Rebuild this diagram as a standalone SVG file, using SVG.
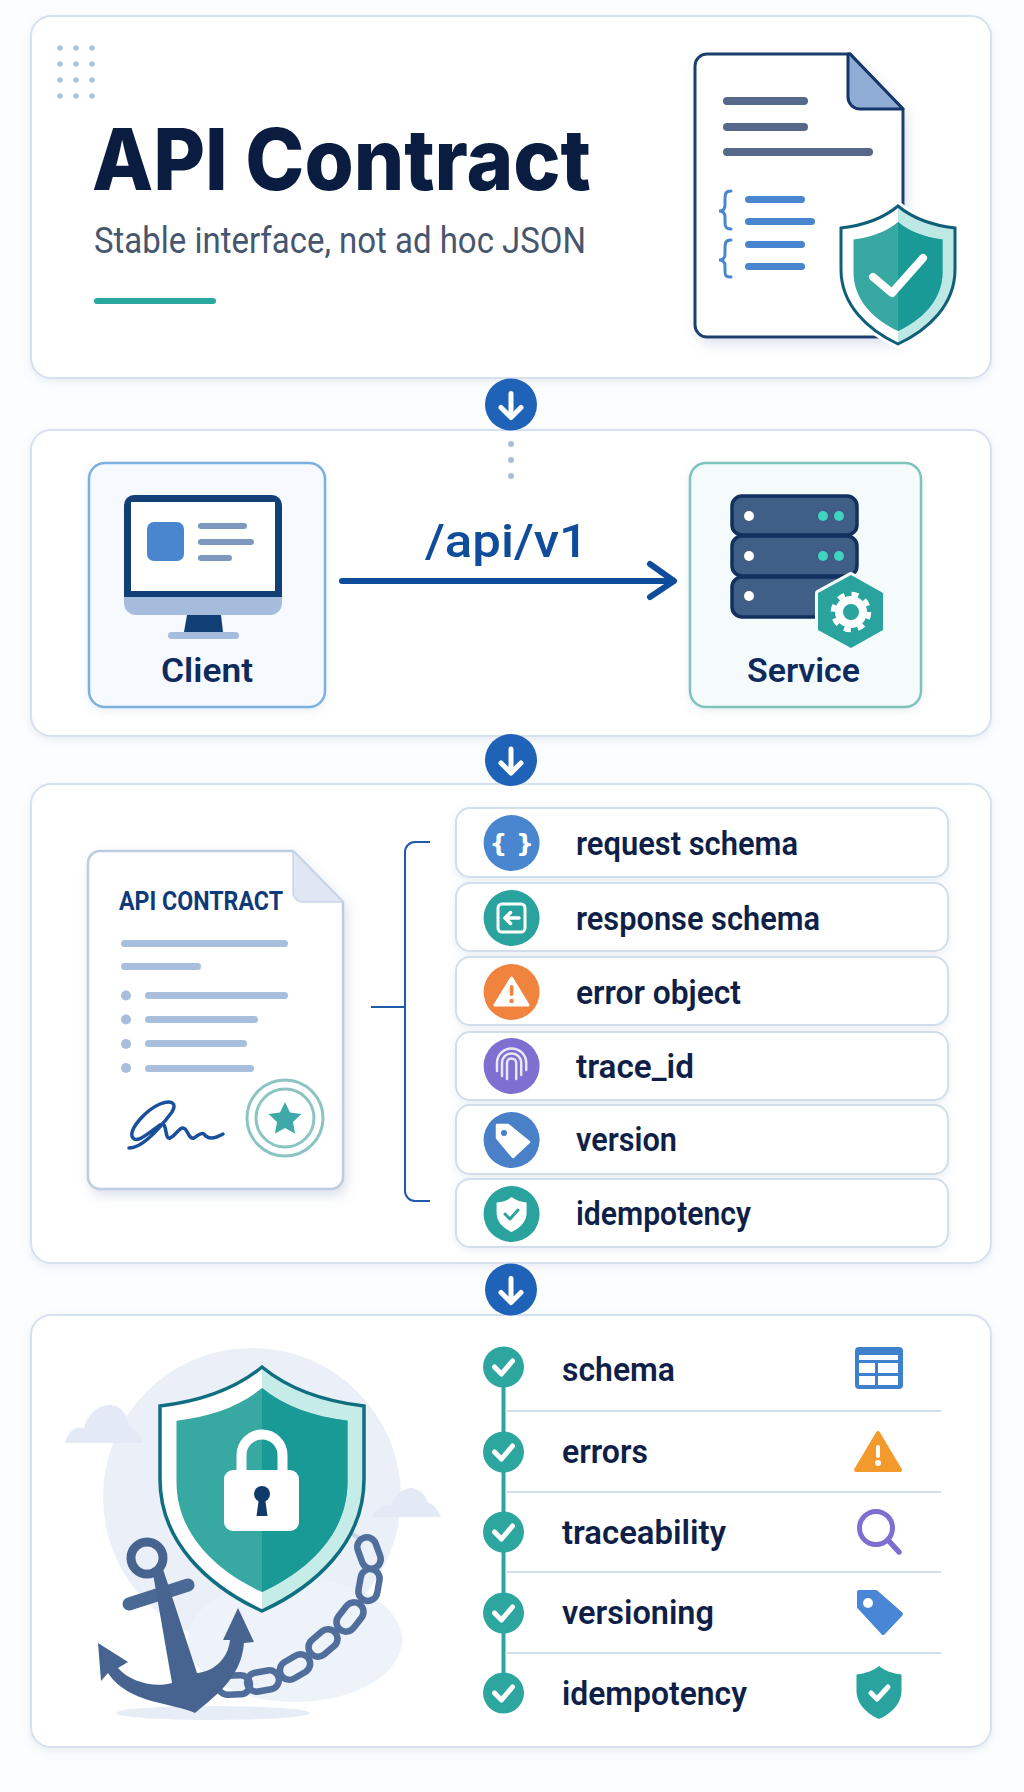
<svg xmlns="http://www.w3.org/2000/svg" width="1024" height="1792" viewBox="0 0 1024 1792">
<defs>
<style>
.panel{fill:#fff;stroke:#d6e0ee;stroke-width:2;filter:url(#soft)}
.row{fill:#fff;stroke:#d3deec;stroke-width:2;filter:url(#soft)}
.lbl{font-family:Roboto,"Liberation Sans",sans-serif;font-weight:600;fill:#0f1f47}
.l{fill:#56698a}.b{fill:#4a86d0}.g{fill:#a8bedd}.w{fill:#fff}
.ck{fill:none;stroke:#fff;stroke-width:5;stroke-linecap:round;stroke-linejoin:round}
.link{fill:none;stroke:#4f6e9c;stroke-width:6.5}
</style>
<filter id="soft" x="-5%" y="-10%" width="110%" height="125%"><feDropShadow dx="0" dy="3" stdDeviation="4" flood-color="#9fb2cc" flood-opacity=".22"/></filter>
<filter id="docs" x="-15%" y="-10%" width="130%" height="125%"><feDropShadow dx="3" dy="6" stdDeviation="6" flood-color="#8fa3c0" flood-opacity=".3"/></filter>
<path id="sh" vector-effect="non-scaling-stroke" d="M0 0C.13 .09 .3 .14 .5 .16V.46C.5 .72 .26 .9 0 1C-.26 .9 -.5 .72 -.5 .46V.16C-.3 .14 -.13 .09 0 0Z"/>
<path id="shR" d="M0 0C.13 .09 .3 .14 .5 .16V.46C.5 .72 .26 .9 0 1Z"/>
<g id="dn"><circle r="26" fill="#1f63b8"/><path d="M0 -11V12M-10 3L0 13L10 3" fill="none" stroke="#fff" stroke-width="5" stroke-linecap="round" stroke-linejoin="round"/></g>
<g id="tick"><circle r="20.5" fill="#2ea6a0"/><path class="ck" d="M-9 0L-2 7L9 -6"/></g>
<rect id="lk" x="-16" y="-9.5" width="32" height="19" rx="9.5" class="link"/>
</defs>
<rect width="1024" height="1792" fill="#fcfdfe"/>

<g id="panel-header">
<rect class="panel" x="31" y="16" width="960" height="362" rx="20"/>
<g fill="#a6c4e8"><circle cx="60" cy="48" r="2.8"/><circle cx="76" cy="48" r="2.8"/><circle cx="92" cy="48" r="2.8"/><circle cx="60" cy="64" r="2.8"/><circle cx="76" cy="64" r="2.8"/><circle cx="92" cy="64" r="2.8"/><circle cx="60" cy="80" r="2.8"/><circle cx="76" cy="80" r="2.8"/><circle cx="92" cy="80" r="2.8"/><circle cx="60" cy="96" r="2.8"/><circle cx="76" cy="96" r="2.8"/><circle cx="92" cy="96" r="2.8"/></g>
<text x="92" y="190" font-family="Inter,'Liberation Sans',sans-serif" font-weight="800" font-size="85" fill="#0a1c40" textLength="499" lengthAdjust="spacingAndGlyphs">API Contract</text>
<text x="94" y="253" font-family="Roboto,'Liberation Sans',sans-serif" font-weight="400" font-size="36" fill="#46566e" textLength="492" lengthAdjust="spacingAndGlyphs">Stable interface, not ad hoc JSON</text>
<rect x="94" y="298" width="122" height="6" rx="3" fill="#2aa79f"/>
</g>

<g id="node-contract-doc">
<path d="M707 54H850L903 109V325a12 12 0 0 1-12 12H707a12 12 0 0 1-12-12V66a12 12 0 0 1 12-12Z" fill="#fff" stroke="#1f3f6e" stroke-width="3" filter="url(#docs)"/>
<path d="M848 54L850 54L903 109H860a12 12 0 0 1-12-12Z" fill="#8fadd4" stroke="#14366b" stroke-width="3" stroke-linejoin="round"/>
<rect class="l" x="723" y="97" width="85" height="8" rx="4"/><rect class="l" x="723" y="123" width="85" height="8" rx="4"/><rect class="l" x="723" y="148" width="150" height="8" rx="4"/>
<rect class="b" x="745" y="196" width="60" height="7" rx="3.5"/><rect class="b" x="745" y="218" width="70" height="7" rx="3.5"/><rect class="b" x="745" y="241" width="60" height="7" rx="3.5"/><rect class="b" x="745" y="263" width="60" height="7" rx="3.5"/>
<path d="M731 191C725 191 725 195 725 199V205C725 209 723 211 719 211C723 211 725 213 725 217V222C725 227 726 229 731 229M731 240C725 240 725 244 725 248V254C725 258 723 260 719 260C723 260 725 262 725 266V271C725 276 726 277 731 277" fill="none" stroke="#4a86d0" stroke-width="3" stroke-linecap="round"/>
<use href="#sh" transform="translate(898 206) scale(114 138)" fill="#fff" stroke="#fff" stroke-width="9"/>
<use href="#shR" transform="translate(898 206) scale(114 138)" fill="#bde8e4"/>
<use href="#sh" transform="translate(898 206) scale(114 138)" fill="none" stroke="#0f5f78" stroke-width="3"/>
<use href="#sh" transform="translate(898 222) scale(89 109)" fill="#38a8a3"/>
<use href="#shR" transform="translate(898 222) scale(89 109)" fill="#1a9a97"/>
<path d="M873 277L892 293L923 258" fill="none" stroke="#fff" stroke-width="8" stroke-linecap="round" stroke-linejoin="round"/>
</g>

<g id="panel-flow">
<rect class="panel" x="31" y="430" width="960" height="306" rx="20"/>
<g fill="#a9bdd8"><circle cx="511" cy="444" r="3"/><circle cx="511" cy="460" r="3"/><circle cx="511" cy="476" r="3"/></g>
</g>

<g id="node-client">
<rect x="89" y="463" width="236" height="244" rx="16" fill="#f6faff" stroke="#7db0e0" stroke-width="2.5" filter="url(#soft)"/>
<path d="M134 495H272a10 10 0 0 1 10 10V597H124V505a10 10 0 0 1 10-10Z" fill="#123f75"/>
<rect x="131" y="502" width="144" height="89" fill="#fff"/>
<path d="M124 597H282V603a12 12 0 0 1-12 12H136a12 12 0 0 1-12-12Z" fill="#a5bcdc"/>
<rect class="b" x="147" y="522" width="37" height="39" rx="7"/>
<g fill="#7f98bf"><rect x="198" y="523" width="49" height="6" rx="3"/><rect x="198" y="539" width="56" height="6" rx="3"/><rect x="198" y="555" width="34" height="6" rx="3"/></g>
<path d="M187 615H221L223 632H184Z" fill="#123f75"/>
<rect x="168" y="632" width="71" height="7" rx="3.5" fill="#a5bcdc"/>
<text class="lbl" x="161" y="682" font-size="34" style="fill:#0f2a5c" textLength="92" lengthAdjust="spacingAndGlyphs">Client</text>
</g>

<g id="node-service">
<rect x="690" y="463" width="231" height="244" rx="16" fill="#f5fbfb" stroke="#7fc4bc" stroke-width="2.5" filter="url(#soft)"/>
<g fill="#3f5f87" stroke="#12305f" stroke-width="3.5"><rect x="732" y="496" width="125" height="39" rx="10"/><rect x="732" y="536" width="125" height="40" rx="10"/><rect x="732" y="577" width="125" height="40" rx="10"/></g>
<g class="w"><circle cx="749" cy="516" r="5"/><circle cx="749" cy="556" r="5"/><circle cx="749" cy="596" r="5"/></g>
<g fill="#3fd4bd"><circle cx="823" cy="516" r="5"/><circle cx="839" cy="516" r="5"/><circle cx="823" cy="556" r="5"/><circle cx="839" cy="556" r="5"/></g>
<path d="M851 575L883 593V630L851 648L818 630V593Z" fill="#2aa39e" stroke="#f4fbfb" stroke-width="6" stroke-linejoin="round" paint-order="stroke"/>
<circle cx="851" cy="612" r="12" fill="none" stroke="#fff" stroke-width="8"/>
<circle cx="851" cy="612" r="18" fill="none" stroke="#fff" stroke-width="4.5" stroke-dasharray="7 7.14"/>
<text class="lbl" x="747" y="682" font-size="34" style="fill:#0f2a5c" textLength="113" lengthAdjust="spacingAndGlyphs">Service</text>
</g>

<g id="panel-fields">
<rect class="panel" x="31" y="784" width="960" height="479" rx="20"/>
</g>

<g id="node-api-contract">
<path d="M100 851H293L343 902V1177a12 12 0 0 1-12 12H100a12 12 0 0 1-12-12V863a12 12 0 0 1 12-12Z" fill="#fff" stroke="#bccce2" stroke-width="2.5" filter="url(#docs)"/>
<path d="M293 851L343 902H303a10 10 0 0 1-10-10Z" fill="#e0e7f3" stroke="#c8d5e8" stroke-width="1.5" stroke-linejoin="round"/>
<text x="119" y="910" font-family="Roboto,'Liberation Sans',sans-serif" font-weight="700" font-size="25" fill="#0f3a7a" textLength="164" lengthAdjust="spacingAndGlyphs">API CONTRACT</text>
<rect class="g" x="121" y="940" width="167" height="7" rx="3.5"/><rect class="g" x="121" y="963" width="80" height="7" rx="3.5"/>
<g class="g"><circle cx="126" cy="995.5" r="5"/><circle cx="126" cy="1019.5" r="5"/><circle cx="126" cy="1044" r="5"/><circle cx="126" cy="1068" r="5"/>
<rect x="145" y="992" width="143" height="7" rx="3.5"/><rect x="145" y="1016" width="113" height="7" rx="3.5"/><rect x="145" y="1040" width="102" height="7" rx="3.5"/><rect x="145" y="1065" width="109" height="7" rx="3.5"/></g>
<path d="M129 1148C142 1148 160 1128 172 1112C178 1102 170 1100 160 1104C146 1110 130 1128 132 1136C135 1146 150 1132 160 1125C168 1120 164 1140 170 1138C176 1136 178 1128 183 1128C188 1128 188 1140 194 1138C198 1136 200 1132 204 1134C208 1140 216 1138 223 1134" fill="none" stroke="#1a4f9c" stroke-width="3.5" stroke-linecap="round" stroke-linejoin="round"/>
<circle cx="285" cy="1118" r="38" fill="none" stroke="#8cc4c2" stroke-width="3"/><circle cx="285" cy="1118" r="29" fill="none" stroke="#8cc4c2" stroke-width="3"/>
<path d="M285 1102L290 1112.5L301.500 1114L293 1122L295 1133.5L285 1128L275 1133.5L277 1122L268.500 1114L280 1112.5Z" fill="#3fa8a8"/>
</g>

<g id="node-request-schema"><rect class="row" x="456" y="808" width="492" height="69" rx="14"/><circle cx="511.6" cy="843" r="28" fill="#4a86d0"/><text x="511.6" y="852" text-anchor="middle" font-family="'DejaVu Sans',sans-serif" font-weight="700" font-size="25" fill="#fff">{ }</text><text class="lbl" x="576" y="855" font-size="33" textLength="222" lengthAdjust="spacingAndGlyphs">request schema</text></g>
<g id="node-response-schema"><rect class="row" x="456" y="883" width="492" height="68" rx="14"/><circle cx="511.6" cy="918" r="28" fill="#2aa39e"/><rect x="498" y="904" width="27" height="28" rx="4" fill="none" stroke="#fff" stroke-width="3"/><path d="M519 918H505M510.5 912.5L505 918L510.5 923.5" fill="none" stroke="#fff" stroke-width="3.5" stroke-linecap="round" stroke-linejoin="round"/><text class="lbl" x="576" y="930" font-size="33" textLength="244" lengthAdjust="spacingAndGlyphs">response schema</text></g>
<g id="node-error-object"><rect class="row" x="456" y="957" width="492" height="68" rx="14"/><circle cx="511.6" cy="992" r="28" fill="#f0843e"/><path d="M511.6 978L528 1005H495Z" fill="#fff" stroke="#fff" stroke-width="3" stroke-linejoin="round"/><rect x="509.8" y="985" width="3.6" height="11" rx="1.8" fill="#f0843e"/><circle cx="511.6" cy="1001" r="2.2" fill="#f0843e"/><text class="lbl" x="576" y="1004" font-size="33" textLength="165" lengthAdjust="spacingAndGlyphs">error object</text></g>
<g id="node-trace-id"><rect class="row" x="456" y="1032" width="492" height="68" rx="14"/><circle cx="511.6" cy="1066" r="28" fill="#7f6fd0"/><path d="M497 1071V1063a14.6 14.6 0 0 1 29.2 0V1070M502 1076V1063a9.6 9.6 0 0 1 19.2 0V1075M507 1079V1063a4.6 4.6 0 0 1 9.2 0V1079" fill="none" stroke="#ebe6fb" stroke-width="2.5" stroke-linecap="round"/><text class="lbl" x="576" y="1078" font-size="33" textLength="118" lengthAdjust="spacingAndGlyphs">trace_id</text></g>
<g id="node-version"><rect class="row" x="456" y="1105" width="492" height="69" rx="14"/><circle cx="511.6" cy="1140" r="28" fill="#4a80c8"/><path d="M497 1125H508L529 1142L513 1157L497 1138Z" fill="#fff" stroke="#fff" stroke-width="2.5" stroke-linejoin="round"/><circle cx="504" cy="1133" r="3" fill="#4a80c8"/><text class="lbl" x="576" y="1151" font-size="33" textLength="101" lengthAdjust="spacingAndGlyphs">version</text></g>
<g id="node-idempotency"><rect class="row" x="456" y="1179" width="492" height="68" rx="14"/><circle cx="511.6" cy="1214" r="28" fill="#2aa39e"/><use href="#sh" transform="translate(511.6 1197) scale(30 35)" fill="#fff"/><path d="M505 1214L510 1219L518 1210" fill="none" stroke="#2aa39e" stroke-width="3" stroke-linecap="round" stroke-linejoin="round"/><text class="lbl" x="576" y="1225" font-size="33" textLength="175" lengthAdjust="spacingAndGlyphs">idempotency</text></g>

<g id="panel-guarantees">
<rect class="panel" x="31" y="1315" width="960" height="432" rx="20"/>
</g>

<g id="node-anchored-shield">
<circle cx="252" cy="1497" r="149" fill="#ebf0f8"/>
<ellipse cx="295" cy="1640" rx="107" ry="62" fill="#eef3f9"/>
<path d="M65 1443C68 1432 75 1426 84 1428C88 1412 100 1405 110 1405C120 1405 128 1414 128 1425C135 1428 141 1435 143 1443Z" fill="#e3eaf5"/>
<path d="M372 1517C378 1507 385 1505 392 1505C395 1493 405 1488 412 1488C420 1489 427 1497 428 1503C433 1503 438 1510 441 1517Z" fill="#e3eaf5"/>
<ellipse cx="213" cy="1713" rx="97" ry="7" fill="#e6edf6"/>
<path d="M350 1533L363 1540" stroke="#c5d3e5" stroke-width="4"/>
<use href="#sh" transform="translate(262 1367) scale(204 244)" fill="#fff"/>
<use href="#shR" transform="translate(262 1367) scale(204 244)" fill="#c6ece8"/>
<use href="#sh" transform="translate(262 1367) scale(204 244)" fill="none" stroke="#0f6f80" stroke-width="3.5"/>
<use href="#sh" transform="translate(262 1388) scale(171 204)" fill="#38a8a3"/>
<use href="#shR" transform="translate(262 1388) scale(171 204)" fill="#1a9a97"/>
<path d="M241.5 1472V1455a20.5 20.5 0 0 1 41 0V1472" fill="none" stroke="#fff" stroke-width="10"/>
<rect x="224" y="1470" width="75" height="61" rx="9" fill="#fff"/>
<path d="M259 1498L256.5 1516H267.5L265 1498Z" fill="#0f3a6a"/><circle cx="262" cy="1494" r="8" fill="#0f3a6a"/>
<g>
<use href="#lk" transform="translate(369 1553) rotate(70)"/>
<use href="#lk" transform="translate(369 1585) rotate(100)"/>
<use href="#lk" transform="translate(350 1617) rotate(128)"/>
<use href="#lk" transform="translate(323 1643) rotate(140)"/>
<use href="#lk" transform="translate(295 1667) rotate(150)"/>
<use href="#lk" transform="translate(263 1681) rotate(170)"/>
<use href="#lk" transform="translate(234 1685) rotate(178)"/>
</g>
<circle cx="147" cy="1558" r="16" fill="none" stroke="#46648f" stroke-width="9"/>
<path d="M129 1604L188 1585" stroke="#4a6994" stroke-width="13" stroke-linecap="round"/>
<path d="M195 1713C175 1703 128 1704 108 1673L101 1681L98 1643L128 1662L118 1668C130 1682 155 1688 172 1683L152 1568L162 1566L197 1673C212 1672 228 1660 230 1640L223 1640L238 1608L254 1642L244 1643C241 1680 212 1698 195 1713Z" fill="#46648f"/>
</g>

<g id="node-check-schema"><use href="#tick" x="503.5" y="1367"/><text class="lbl" x="562" y="1381" font-size="33" textLength="113" lengthAdjust="spacingAndGlyphs">schema</text>
<rect x="855" y="1347" width="48" height="42" rx="4" fill="#3f80cc"/><g class="w"><rect x="859" y="1355" width="39" height="5"/><rect x="859" y="1363" width="16" height="10"/><rect x="878" y="1363" width="20" height="10"/><rect x="859" y="1376" width="16" height="9"/><rect x="878" y="1376" width="20" height="9"/></g></g>
<g id="node-check-errors"><use href="#tick" x="503.5" y="1452"/><text class="lbl" x="562" y="1463" font-size="33" textLength="86" lengthAdjust="spacingAndGlyphs">errors</text>
<path d="M878 1433L900 1470H856Z" fill="#f39a2d" stroke="#f39a2d" stroke-width="4" stroke-linejoin="round"/><rect x="876" y="1445" width="4" height="13" rx="2" fill="#fff"/><circle cx="878" cy="1463" r="3" fill="#fff"/></g>
<g id="node-check-traceability"><use href="#tick" x="503.5" y="1532"/><text class="lbl" x="562" y="1544" font-size="33" textLength="164" lengthAdjust="spacingAndGlyphs">traceability</text>
<circle cx="876" cy="1528" r="16.5" fill="none" stroke="#7c6fd0" stroke-width="5"/><path d="M888 1540L899 1552" stroke="#7c6fd0" stroke-width="5.5" stroke-linecap="round"/></g>
<g id="node-check-versioning"><use href="#tick" x="503.5" y="1613"/><text class="lbl" x="562" y="1624" font-size="33" textLength="152" lengthAdjust="spacingAndGlyphs">versioning</text>
<path d="M859 1592H876L901 1614L883 1633L859 1607Z" fill="#4a86d6" stroke="#4a86d6" stroke-width="4" stroke-linejoin="round"/><circle cx="868" cy="1603" r="5" fill="#fff"/></g>
<g id="node-check-idempotency"><use href="#tick" x="503.5" y="1693"/><text class="lbl" x="562" y="1705" font-size="33" textLength="185" lengthAdjust="spacingAndGlyphs">idempotency</text>
<use href="#sh" transform="translate(879 1666) scale(45 53)" fill="#2aa39e"/><path d="M871 1693L877 1699L888 1687" class="ck"/></g>

<g id="dividers" stroke="#d3deed" stroke-width="2"><path d="M507 1411H941M507 1492H941M507 1572H941M507 1653H941"/></g>

<g id="connectors">
<path d="M503.5 1387V1432M503.5 1472V1512M503.5 1552V1593M503.5 1633V1673" stroke="#2ea6a0" stroke-width="4" fill="none"/>
<path d="M342 581H672" stroke="#0f4c9c" stroke-width="6" stroke-linecap="round" fill="none"/>
<path d="M650 564L674 581L650 597" fill="none" stroke="#0f4c9c" stroke-width="6" stroke-linecap="round" stroke-linejoin="round"/>
<text x="425" y="557" font-family="Roboto,'Liberation Sans',sans-serif" font-weight="500" font-size="47" fill="#0f4c9c" textLength="163" lengthAdjust="spacingAndGlyphs">/api/v1</text>
<path d="M430 842H415a10 10 0 0 0-10 10V1191a10 10 0 0 0 10 10H430M371 1007H405" fill="none" stroke="#1f5aa8" stroke-width="2"/>
<use href="#dn" x="511" y="404.5"/>
<use href="#dn" x="511" y="760"/>
<use href="#dn" x="511" y="1289.5"/>
</g>
</svg>
